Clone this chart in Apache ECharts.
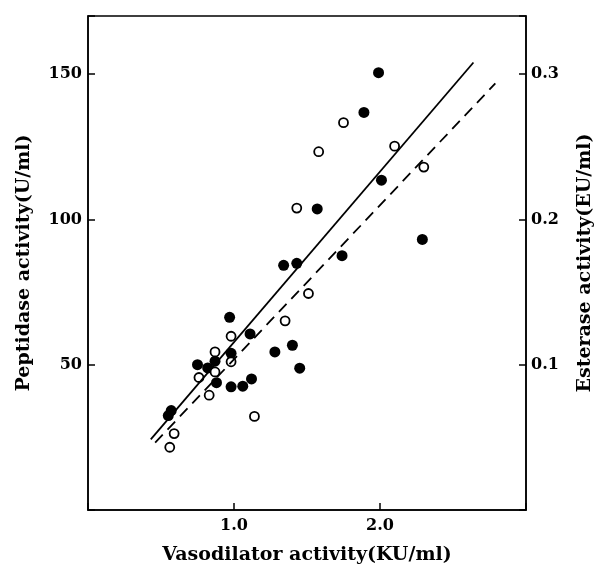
<!DOCTYPE html>
<html>
<head>
<meta charset="utf-8">
<script src="https://cdn.jsdelivr.net/npm/echarts@6/dist/echarts.min.js"></script>
<style>
  html, body { margin: 0; padding: 0; background: #fff; }
  #chart { width: 596px; height: 568px; }
</style>
</head>
<body>
<div id="chart"></div>
<script>
// filled circles: [vasodilator, peptidase]
const filledPts = [
  [1.99, 150.5], [1.89, 136.8], [2.01, 113.5], [1.57, 103.6], [2.29, 93.1],
  [1.74, 87.5], [1.34, 84.2], [1.43, 84.9], [0.97, 66.3], [1.11, 60.6],
  [1.28, 54.4], [1.40, 56.7], [1.45, 48.8], [0.98, 53.9], [0.87, 51.2],
  [0.75, 50.0], [0.82, 48.9], [0.88, 43.8], [0.98, 42.4], [1.06, 42.6],
  [1.12, 45.1], [0.55, 32.5], [0.57, 34.2]
];
// open circles
const openPts = [
  [1.75, 133.3], [1.58, 123.3], [2.10, 125.2], [2.30, 118.0], [1.43, 103.9],
  [1.51, 74.5], [1.35, 65.1], [0.98, 59.8], [0.87, 54.4], [0.98, 51.0],
  [0.87, 47.5], [0.76, 45.6], [0.83, 39.5], [1.14, 32.2], [0.59, 26.3],
  [0.56, 21.6]
];
// regression lines (end points)
const solidLine = [[0.43, 24.3], [2.64, 154.0]];
const dashedLine = [[0.46, 23.2], [2.79, 146.8]];

const xTicks = [1.0, 2.0];
const leftTicks = [50, 100, 150];
const rightTicks = [0.1, 0.2, 0.3];

const font = "'DejaVu Serif', 'Liberation Serif', serif";
const chart = echarts.init(document.getElementById('chart'));

chart.setOption({
  animation: false,
  backgroundColor: '#fff',
  grid: {
    left: 88, right: 70, top: 16, bottom: 58,
    outerBoundsMode: 'none', containLabel: false,
    show: true, borderColor: '#000', borderWidth: 1.5, backgroundColor: 'transparent'
  },
  xAxis: {
    type: 'value', min: 0, max: 3, interval: 1,
    name: 'Vasodilator activity(KU/ml)', nameLocation: 'middle', nameGap: 36,
    nameTextStyle: { fontFamily: font, fontSize: 19, color: '#000', fontWeight: 'bold' },
    splitLine: { show: false },
    axisLine: { lineStyle: { color: '#000', width: 1.5 } },
    axisTick: { inside: true, length: 7, lineStyle: { color: '#000', width: 1.5 } },
    axisLabel: {
      fontFamily: font, fontSize: 16, color: '#000', fontWeight: 'bold', margin: 8,
      formatter: v => xTicks.some(t => Math.abs(t - v) < 1e-6) ? v.toFixed(1) : ''
    }
  },
  yAxis: [{
    type: 'value', min: 0, max: 170, interval: 50,
    name: 'Peptidase activity(U/ml)', nameLocation: 'middle', nameGap: 54,
    nameTextStyle: { fontFamily: font, fontSize: 19, color: '#000', fontWeight: 'bold' },
    splitLine: { show: false },
    axisLine: { show: true, lineStyle: { color: '#000', width: 1.5 } },
    axisTick: { show: true, inside: true, length: 7, lineStyle: { color: '#000', width: 1.5 } },
    axisLabel: {
      fontFamily: font, fontSize: 16, color: '#000', fontWeight: 'bold', margin: 6,
      formatter: v => leftTicks.includes(v) ? String(v) : ''
    }
  }, {
    type: 'value', min: 0, max: 0.34, interval: 0.1, position: 'right',
    name: 'Esterase activity(EU/ml)', nameLocation: 'middle', nameGap: 50, nameRotate: 90,
    nameTextStyle: { fontFamily: font, fontSize: 19, color: '#000', fontWeight: 'bold' },
    splitLine: { show: false },
    axisLine: { show: true, lineStyle: { color: '#000', width: 1.5 } },
    axisTick: { show: true, inside: true, length: 7, lineStyle: { color: '#000', width: 1.5 } },
    axisLabel: {
      fontFamily: font, fontSize: 16, color: '#000', fontWeight: 'bold', margin: 5,
      formatter: v => rightTicks.some(t => Math.abs(t - v) < 1e-6) ? v.toFixed(1) : ''
    }
  }],
  series: [{
    type: 'line', data: solidLine, symbol: 'none',
    lineStyle: { color: '#000', width: 1.8 }
  }, {
    type: 'line', data: dashedLine, symbol: 'none',
    lineStyle: { color: '#000', width: 1.8, type: [11, 7] }
  }, {
    type: 'scatter', data: filledPts, symbol: 'circle', symbolSize: 11,
    itemStyle: { color: '#000', opacity: 1 }
  }, {
    type: 'scatter', data: openPts, symbol: 'circle', symbolSize: 9,
    itemStyle: { color: '#fff', borderColor: '#000', borderWidth: 1.8, opacity: 1 }
  }]
});
</script>
</body>
</html>
